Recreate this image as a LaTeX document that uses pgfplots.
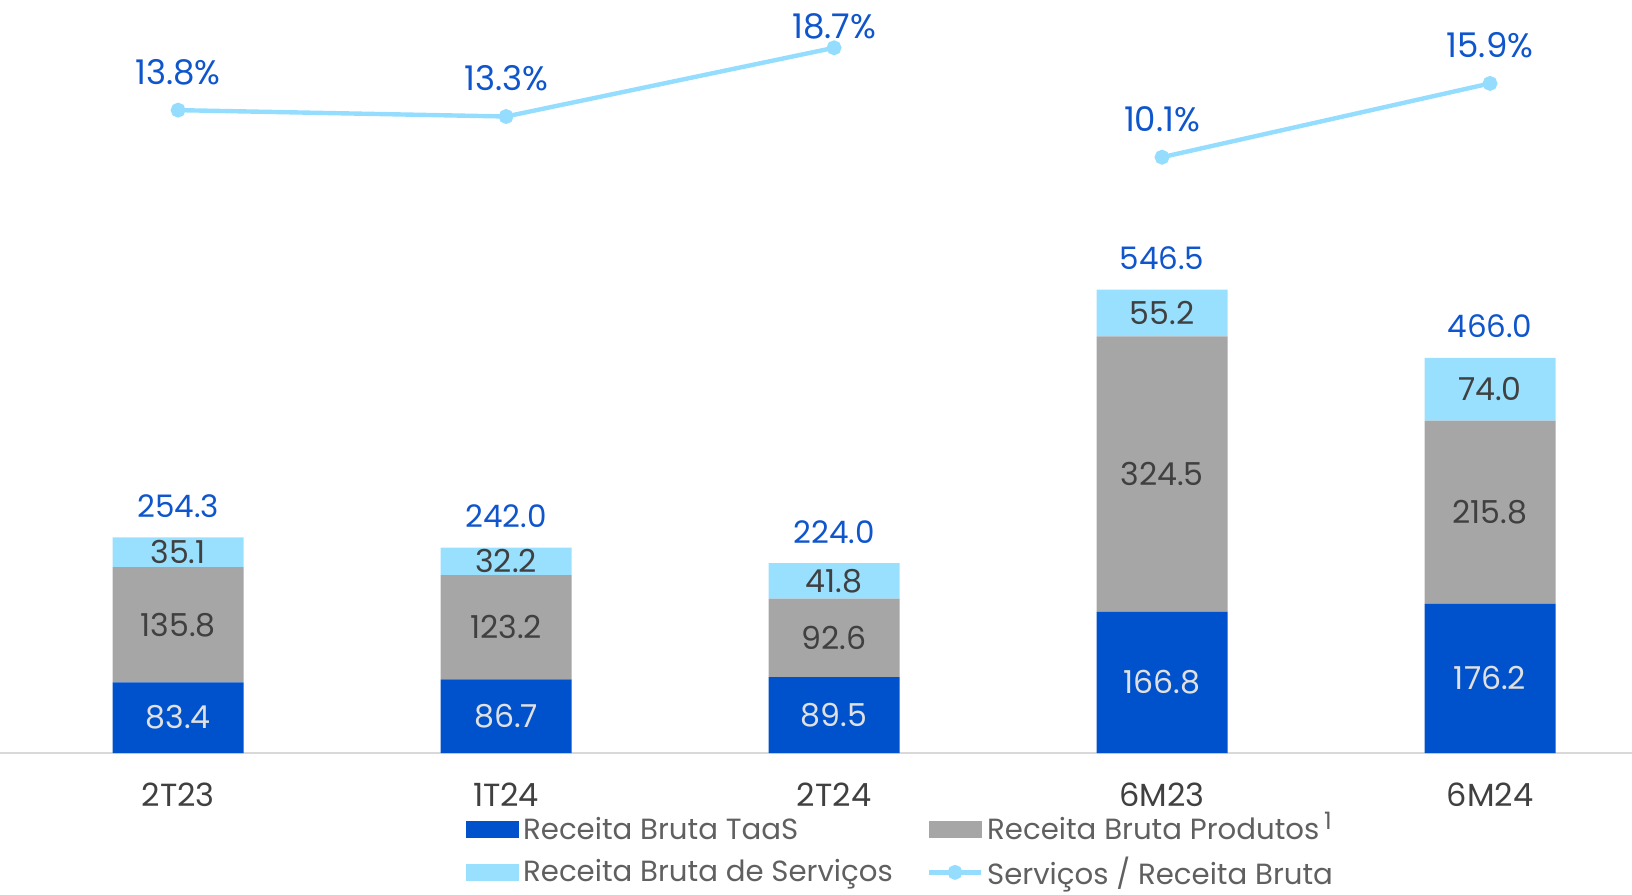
\documentclass[border=0pt]{standalone}
\usepackage{pgfplots}
\pgfplotsset{compat=1.18}
\usepackage{pgfplotstable}
\usepackage{fontspec}
\setmainfont{Poppins}
\definecolor{taas}{HTML}{0052CC}
\definecolor{prod}{HTML}{A6A6A6}
\definecolor{serv}{HTML}{99E0FF}
\definecolor{linec}{HTML}{94DDFF}
\definecolor{lblue}{HTML}{0F55CC}
\definecolor{dgray}{HTML}{404040}
\definecolor{lgray}{HTML}{606060}
\definecolor{axgray}{HTML}{D9D9D9}

\pgfplotsset{
  lineleg/.style={legend image code/.code={\draw[##1, mark repeat=2, mark phase=2] plot coordinates {(0pt,0pt) (13pt,0pt) (26pt,0pt)};}},
  base/.style={
    scale only axis, width=816pt, height=376.5pt,
    xmin=-0.543, xmax=4.433,
    /pgf/number format/.cd, fixed, fixed zerofill, precision=1, assume math mode=true,
  }
}

\pgfplotstableread{
x taas prod serv total
0 83.4 135.8 35.1 254.3
1 86.7 123.2 32.2 242.0
2 89.5 92.6 41.8 224.0
3 166.8 324.5 55.2 546.5
4 176.2 215.8 74.0 466.0
}\data

\pgfplotstableread{
x pct
0 13.8
1 13.3
2 18.7
}\lineA

\pgfplotstableread{
x pct
3 10.1
4 15.9
}\lineB

\begin{document}
\begin{tikzpicture}
% bars
\begin{axis}[base,
  ymin=0, ymax=888,
  ybar stacked, bar width=65.5pt,
  axis y line=none,
  axis x line*=bottom,
  x axis line style={axgray, line width=0.9pt, -},
  xtick={0,1,2,3,4},
  xticklabels={2T23,1T24,2T24,6M23,6M24},
  major tick length=0pt,
  xticklabel style={font=\fontsize{16}{18}\selectfont, text=dgray, anchor=center, yshift=-21pt},
]
\addplot[fill=taas, draw=none] table[x=x, y=taas] {\data};
\addplot[fill=prod, draw=none] table[x=x, y=prod] {\data};
\addplot[fill=serv, draw=none] table[x=x, y=serv] {\data};
\end{axis}
% labels on bars
\begin{axis}[base,
  ymin=0, ymax=888, hide axis,
]
\addplot[draw=none, mark=none, point meta=explicit, nodes near coords,
  every node near coord/.append style={anchor=center, text=white!88!black, font=\fontsize{15.8}{18}\selectfont}]
  table[x=x, y expr=\thisrow{taas}/2, meta=taas] {\data};
\addplot[draw=none, mark=none, point meta=explicit, nodes near coords,
  every node near coord/.append style={anchor=center, text=dgray, font=\fontsize{15.8}{18}\selectfont}]
  table[x=x, y expr=\thisrow{taas}+\thisrow{prod}/2, meta=prod] {\data};
\addplot[draw=none, mark=none, point meta=explicit, nodes near coords,
  every node near coord/.append style={anchor=center, text=dgray, font=\fontsize{15.8}{18}\selectfont}]
  table[x=x, y expr=\thisrow{taas}+\thisrow{prod}+\thisrow{serv}/2, meta=serv] {\data};
\addplot[draw=none, mark=none, point meta=explicit, nodes near coords,
  every node near coord/.append style={anchor=center, yshift=15.6pt, text=lblue, font=\fontsize{15.5}{19}\selectfont}]
  table[x=x, y expr=\thisrow{taas}+\thisrow{prod}+\thisrow{serv}, meta=total] {\data};
\end{axis}
% line
\begin{axis}[base,
  ymin=-36.74, ymax=22.46, hide axis,
  legend columns=2,
  legend cell align=left,
  legend style={draw=none, fill=none, inner sep=0pt,
    at={(axis description cs:0.2855,-0.079)}, anchor=north west,
    font=\fontsize{14.6}{17}\selectfont, text=lgray,
    nodes={inner sep=2pt},
    /tikz/every even column/.append style={column sep=15pt},
    row sep=3.5pt},
]
\addlegendimage{legend image code/.code={\fill[taas] (0pt,-3.9pt) rectangle (26pt,3.9pt);}}
\addlegendentry{Receita Bruta TaaS}
\addlegendimage{legend image code/.code={\fill[prod] (0pt,-3.9pt) rectangle (26pt,3.9pt);}}
\addlegendentry{Receita Bruta Produtos\,\smash{\raisebox{5pt}{\fontsize{12}{12}\selectfont 1}}}
\addlegendimage{legend image code/.code={\fill[serv] (0pt,-3.9pt) rectangle (26pt,3.9pt);}}
\addlegendentry{Receita Bruta de Serviços}
\addplot[color=linec, line width=2.2pt, mark=*, mark size=2.6pt,
  mark options={fill=linec, draw=linec}, lineleg]
  table[x=x, y=pct] {\lineA};
\addlegendentry{Serviços / Receita Bruta}
\addplot[forget plot, color=linec, line width=2.2pt, mark=*, mark size=2.6pt,
  mark options={fill=linec, draw=linec}]
  table[x=x, y=pct] {\lineB};
% percentage labels
\addplot[forget plot, draw=none, mark=none, point meta=y,
  nodes near coords={\pgfmathprintnumber{\pgfplotspointmeta}\%},
  every node near coord/.append style={anchor=center, yshift=19pt, text=lblue, font=\fontsize{17}{20}\selectfont}]
  coordinates {(0,13.8) (1,13.3) (3,10.1) (4,15.9)};
\addplot[forget plot, draw=none, mark=none, point meta=y,
  nodes near coords={\pgfmathprintnumber{\pgfplotspointmeta}\%},
  every node near coord/.append style={anchor=center, yshift=10.5pt, text=lblue, font=\fontsize{17}{20}\selectfont}]
  coordinates {(2,18.7)};
\end{axis}
\pgfresetboundingbox
\path (current axis.north west) rectangle ([yshift=-70.5pt]current axis.south east);
\end{tikzpicture}
\end{document}
